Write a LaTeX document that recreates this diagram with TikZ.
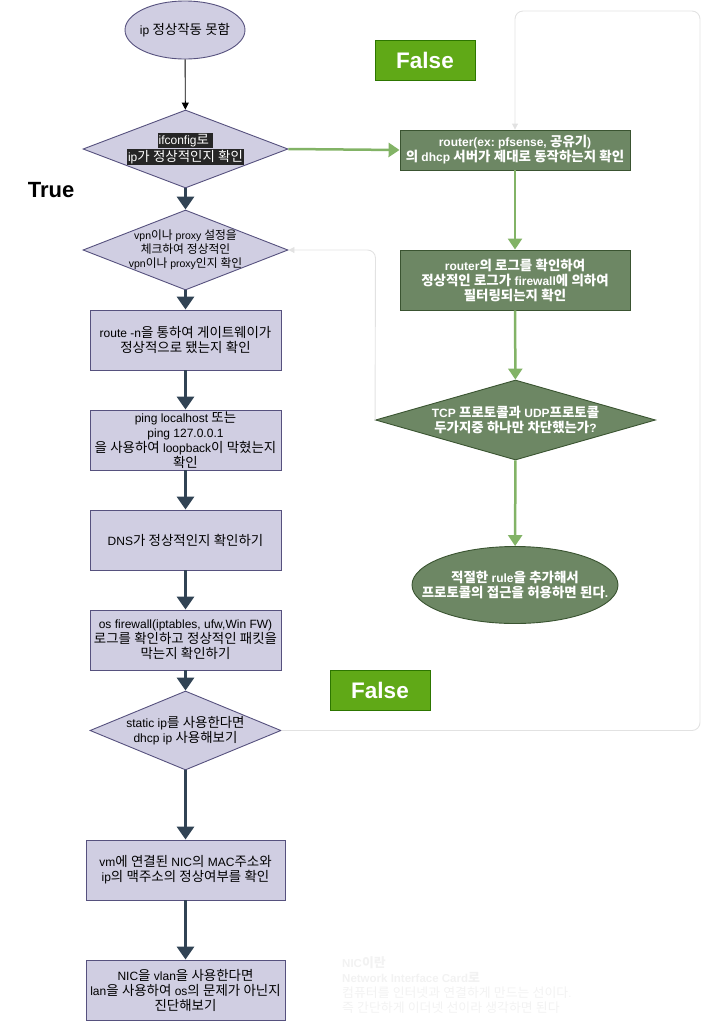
\documentclass[tikz,border=0pt]{standalone}
\usepackage{fontspec}
\setmainfont{Liberation Sans}
\newfontfamily\krfont[Scale=1.12]{Noto Sans CJK KR}
\frenchspacing
\XeTeXinterchartokenstate=1
\newXeTeXintercharclass\hangulclass
\count255="AC00
\loop
  \XeTeXcharclass\count255=\hangulclass
  \ifnum\count255<"D7A3 \advance\count255 by 1
\repeat
\XeTeXinterchartoks 0 \hangulclass = {\begingroup\krfont}
\XeTeXinterchartoks 4095 \hangulclass = {\begingroup\krfont}
\XeTeXinterchartoks \hangulclass 0 = {\endgroup}
\XeTeXinterchartoks \hangulclass 4095 = {\endgroup}
\usetikzlibrary{shapes.geometric,arrows.meta}
\definecolor{lavfill}{HTML}{D0CEE2}
\definecolor{lavdraw}{HTML}{56517E}
\definecolor{gfill}{HTML}{6D8764}
\definecolor{gdraw}{HTML}{3A5431}
\definecolor{navy}{HTML}{314354}
\definecolor{garrow}{HTML}{82B366}
\definecolor{ffill}{HTML}{60A917}
\definecolor{fdraw}{HTML}{2D7600}
\definecolor{lgray}{HTML}{E2E2E2}
\definecolor{hlbg}{HTML}{262626}
\definecolor{notec}{HTML}{F2F2F2}
\newcommand{\hl}[1]{{\setlength{\fboxsep}{1pt}\colorbox{hlbg}{\textcolor{white}{#1}}}}
\tikzset{
  lavbox/.style={draw=lavdraw, fill=lavfill, line width=0.9pt, minimum width=191pt, minimum height=60pt, inner sep=0pt},
  lavdia/.style={diamond, draw=lavdraw, fill=lavfill, line width=0.9pt, inner sep=0pt},
  gbox/.style={draw=gdraw, fill=gfill, line width=0.9pt, minimum width=230pt, inner sep=0pt},
  txt/.style={align=center, font=\fontsize{12}{15}\selectfont, inner sep=0pt},
  wtxt/.style={align=center, font=\fontsize{12}{15}\selectfont\bfseries, text=white, inner sep=0pt},
  navyarrow/.style={draw=navy, line width=3.5pt, -{Triangle[length=13pt,width=17pt]}},
  garr/.style={draw=garrow, line width=2.5pt, -{Triangle[length=11pt,width=14pt]}},
  grayarr/.style={draw=lgray, line width=0.9pt, rounded corners=8pt, -{Triangle[length=6pt,width=6pt]}},
  falsebox/.style={draw=fdraw, fill=ffill, line width=0.9pt, minimum width=100pt, minimum height=40pt, text=white, font=\fontsize{22.5}{26}\selectfont\bfseries}
}
\begin{document}
\begin{tikzpicture}[x=1pt,y=-1pt]
\useasboundingbox (0,0) rectangle (709,1021);
% left column
\node[ellipse, draw=lavdraw, fill=lavfill, line width=0.9pt, minimum width=120pt, minimum height=58pt] (start) at (185,30) {};
\node[txt] at (start) {ip 정상작동 못함};
\node[lavdia, minimum width=205pt, minimum height=78pt] (d1) at (185.5,149) {};
\node[txt, font=\fontsize{12}{15}\selectfont] at (d1) {\hl{ifconfig로 }\\\hl{ip가 정상적인지 확인}};
\node[lavdia, minimum width=205pt, minimum height=80pt] (d2) at (185.5,250) {};
\node[txt, font=\fontsize{10.5}{14}\selectfont] at (d2) {vpn이나 proxy 설정을\\체크하여 정상적인\\vpn이나 proxy인지 확인};
\node[lavbox] (r1) at (185.5,340) {};
\node[txt] at (r1) {route -n을 통하여 게이트웨이가\\정상적으로 됐는지 확인};
\node[lavbox] (r2) at (185.5,440) {};
\node[txt] at (r2) {ping localhost 또는\\ping 127.0.0.1\\을 사용하여 loopback이 막혔는지\\확인};
\node[lavbox] (r3) at (185.5,540) {};
\node[txt] at (r3) {DNS가 정상적인지 확인하기};
\node[lavbox] (r4) at (185.5,640) {};
\node[txt] at (r4) {os firewall(iptables, ufw,Win FW)\\로그를 확인하고 정상적인 패킷을\\막는지 확인하기};
\node[lavdia, minimum width=191pt, minimum height=79pt] (d3) at (185.5,730.5) {};
\node[txt] at (d3) {static ip를 사용한다면\\dhcp ip 사용해보기};
\node[lavbox, minimum width=199pt] (r5) at (185.5,870) {};
\node[txt] at (r5) {vm에 연결된 NIC의 MAC주소와\\ip의 맥주소의 정상여부를 확인};
\node[lavbox, minimum width=199pt] (r6) at (185.5,990) {};
\node[txt] at (r6) {NIC을 vlan을 사용한다면\\lan을 사용하여 os의 문제가 아닌지\\진단해보기};
% right column
\node[gbox, minimum height=40pt] (g1) at (515,150) {};
\node[wtxt] at (g1) {router(ex: pfsense, 공유기)\\의 dhcp 서버가 제대로 동작하는지 확인};
\node[gbox, minimum height=60pt] (g2) at (515,280) {};
\node[wtxt] at (g2) {router의 로그를 확인하여\\정상적인 로그가 firewall에 의하여\\필터링되는지 확인};
\node[diamond, draw=gdraw, fill=gfill, line width=0.9pt, inner sep=0pt, minimum width=280pt, minimum height=80pt] (gd) at (515.5,420) {};
\node[wtxt] at (gd) {TCP 프로토콜과 UDP프로토콜\\두가지중 하나만 차단했는가?};
\node[ellipse, draw=gdraw, fill=gfill, line width=0.9pt, minimum width=206pt, minimum height=77pt] (ge) at (515,585) {};
\node[wtxt] at (ge) {적절한 rule을 추가해서\\프로토콜의 접근을 허용하면 된다.};
% labels
\node[falsebox] (f1) at (425,60) {False};
\node[falsebox] (f2) at (380,690) {False};
\node[font=\fontsize{22}{26}\selectfont\bfseries] (true) at (51,190) {True};
\node[anchor=north west, align=left, text=notec, font=\fontsize{11.5}{15}\selectfont, inner sep=0pt] (note) at (342,956) {\textbf{NIC이란}\\\textbf{Network Interface Card로}\\컴퓨터를 인터넷과 연결하게 만드는 선이다.\\즉 간단하게 이더넷 선이라 생각하면 된다};
% connectors
\draw[black, line width=0.9pt, -{Triangle[length=7pt,width=7pt]}] (start) -- (d1);
\draw[navyarrow] (d1) -- (d2);
\draw[navyarrow] (d2) -- (r1);
\draw[navyarrow] (r1) -- (r2);
\draw[navyarrow] (r2) -- (r3);
\draw[navyarrow] (r3) -- (r4);
\draw[navyarrow] (r4) -- (d3);
\draw[navyarrow] (d3) -- (r5);
\draw[navyarrow] (r5) -- (r6);
\draw[garr] (d1.east) -- (g1.west);
\draw[garr] (g1) -- (g2);
\draw[garr] (g2) -- (gd);
\draw[garr] (gd) -- (ge);
\coordinate (c1) at (700,730.5);
\coordinate (c2) at (700,11);
\coordinate (c3) at (515,11);
\draw[grayarr] (d3.east) -- (c1) -- (c2) -- (c3) -- (g1.north);
\coordinate (c4) at (375.5,250);
\draw[grayarr] (gd.west) -- (c4) -- (d2.east);
\end{tikzpicture}
\end{document}
